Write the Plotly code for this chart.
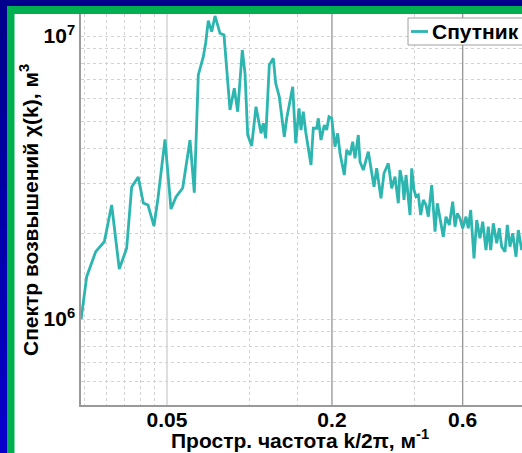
import math
import plotly.graph_objects as go

# spatial frequency k/2pi, 1/m
freq = [0.0243, 0.02546, 0.02746, 0.02952, 0.03141, 0.03348, 0.03562, 0.03716, 0.03927, 0.04098,
        0.04262, 0.04482, 0.04636, 0.04916, 0.05171, 0.05393, 0.05705, 0.06067, 0.0629, 0.06505,
        0.06784, 0.06922, 0.07074, 0.0728, 0.07485, 0.07806, 0.08072, 0.0849, 0.08802, 0.09057,
        0.09414, 0.09631, 0.09851, 0.10188, 0.10563, 0.11018, 0.11233, 0.1146, 0.11814, 0.12217,
        0.12464, 0.12849, 0.13399, 0.13674, 0.1438, 0.14746, 0.15163, 0.1542, 0.15717, 0.16038,
        0.16768, 0.17095, 0.17594, 0.1783, 0.18238, 0.18752, 0.19132, 0.19506, 0.19955, 0.20515,
        0.20988, 0.21398, 0.22185, 0.22634, 0.23273, 0.23805, 0.2427, 0.24955, 0.25315, 0.26025,
        0.27145, 0.27931, 0.28477, 0.29127, 0.30198, 0.30972, 0.32112, 0.33042, 0.33968, 0.34926,
        0.35428, 0.36237, 0.36641, 0.37262, 0.3799, 0.38536, 0.39091, 0.39856, 0.40532, 0.41325,
        0.42161, 0.43094, 0.44088, 0.44939, 0.46251, 0.46873, 0.47547, 0.48475, 0.49587, 0.50973,
        0.5214, 0.53611, 0.55165, 0.5624, 0.5734, 0.5865, 0.6, 0.61685, 0.6289, 0.64175,
        0.65975, 0.67495, 0.69385, 0.70985, 0.72975, 0.744, 0.75925, 0.77605, 0.7985, 0.81615,
        0.83265, 0.85615, 0.8729, 0.8928, 0.91335, 0.93895, 0.9573, 0.98505, 1.0129]

# elevation spectrum chi(k), in units of 1e6 m^3
spec_e6 = [1.0, 1.411, 1.729, 1.875, 2.528, 1.502, 1.778, 2.927, 3.175, 2.57,
           2.528, 2.131, 2.677, 4.315, 2.447, 2.698, 2.904, 4.29, 2.795, 7.281,
           8.451, 9.469, 11.33, 10.36, 11.77, 10.22, 10.08, 5.478, 6.533, 5.402,
           8.923, 7.383, 4.468, 4.087, 5.626, 4.53, 4.915, 4.35, 7.9, 8.341,
           6.805, 6.101, 4.406, 5.119, 6.618, 4.178, 5.554, 4.654, 5.402, 4.59,
           3.5, 4.72, 4.72, 5.119, 4.29, 4.848, 4.654, 5.186, 5.119, 4.064,
           4.53, 3.85, 3.227, 3.956, 3.797, 4.231, 3.696, 4.468, 3.595, 3.361,
           3.901, 3.315, 2.934, 3.408, 2.67, 3.272, 3.549, 2.896, 3.183, 2.564,
           3.361, 3.023, 2.633, 3.227, 2.705, 2.331, 3.408, 2.857, 2.705, 2.743,
           2.331, 2.633, 2.528, 2.299, 2.975, 2.427, 2.035, 2.564, 2.238, 1.953,
           2.299, 2.149, 2.598, 2.119, 2.363, 2.269, 2.092, 2.299, 2.092, 2.427,
           1.638, 2.238, 1.928, 2.207, 1.753, 2.119, 1.753, 2.179, 1.851, 2.092,
           1.801, 1.729, 2.149, 1.801, 2.009, 1.66, 2.063, 1.753, 1.902]

series_name = "Спутник"
x_title = "Простр. частота k/2π, м<sup>-1</sup>"
y_title = "Спектр возвышений χ(k), м<sup>3</sup>"

x_tick_vals = [0.05, 0.2, 0.6]
x_tick_text = ["0.05", "0.2", "0.6"]
x_minor_grid = [0.025, 0.03, 0.035, 0.04, 0.045, 0.1, 0.15, 0.4]
y_tick_vals = [1e6, 1e7]
y_tick_text = ["10<sup>6</sup>", "10<sup>7</sup>"]
y_minor_grid = [m * 10 ** e for e in (5, 6, 7) for m in range(2, 10)]

spec = [v * 1e6 for v in spec_e6]

W, H = 522, 453
ML, MR, MT, MB = 81, 0, 14, 48
PW, PH = W - ML - MR, H - MT - MB

def px(xp):
    return (xp - ML) / PW

def py(yp):
    return (H - MB - yp) / PH

FONT = "Liberation Sans, Arial, sans-serif"
FS = 21
LINE_COLOR = "#2db5b0"
GRID = "#d2d2d2"

fig = go.Figure()
fig.add_trace(go.Scatter(x=freq, y=spec, mode="lines", name=series_name,
                         line=dict(color=LINE_COLOR, width=2.8), showlegend=False))

shapes = []
# solid grid lines at labelled x ticks
shapes.append(dict(type="line", xref="x", yref="paper", x0=0.05, x1=0.05, y0=0, y1=1,
                   line=dict(color="#bdbdbd", width=1), layer="below"))
for xv in x_tick_vals[1:]:
    shapes.append(dict(type="line", xref="x", yref="paper", x0=xv, x1=xv, y0=0, y1=1,
                       line=dict(color="#8c8c8c", width=1.2), layer="below"))

# manual legend box
shapes.append(dict(type="rect", xref="paper", yref="paper", x0=px(408), x1=px(540), y0=py(45), y1=py(18),
                   line=dict(color="#a0a0a0", width=1), fillcolor="white", layer="above"))
shapes.append(dict(type="line", xref="paper", yref="paper", x0=px(411), x1=px(428), y0=py(31.5), y1=py(31.5),
                   line=dict(color=LINE_COLOR, width=2.8), layer="above"))

# slide frame: blue outer band (gradient on the left) and green inner band
n = 12
for i in range(n):
    t = i / (n - 1)
    r, g, b = int(0 + 8 * t), 0, int(140 + 60 * t)
    shapes.append(dict(type="rect", xref="paper", yref="paper",
                       x0=px(0), x1=px(7), y0=py(453 * (i + 1) / n + 1), y1=py(453 * i / n),
                       line=dict(width=0), fillcolor=f"rgb({r},{g},{b})", layer="above"))
shapes.append(dict(type="rect", xref="paper", yref="paper", x0=px(0), x1=px(530), y0=py(6), y1=py(-2),
                   line=dict(width=0), fillcolor="#00008c", layer="above"))
shapes.append(dict(type="rect", xref="paper", yref="paper", x0=px(7), x1=px(530), y0=py(14), y1=py(6),
                   line=dict(width=0), fillcolor="#00b050", layer="above"))
shapes.append(dict(type="rect", xref="paper", yref="paper", x0=px(7), x1=px(14.5), y0=py(460), y1=py(6),
                   line=dict(width=0), fillcolor="#00b050", layer="above"))

bold = dict(family=FONT, size=FS, color="black", weight="bold")
annotations = [
    dict(text=series_name, xref="paper", yref="paper", x=px(430), y=py(31.5), xanchor="left",
         yanchor="middle", showarrow=False, font=bold),
    dict(text=x_title, xref="paper", yref="paper", x=px(300), y=py(439.5), xanchor="center", yanchor="middle",
         showarrow=False, font=bold),
    dict(text=y_title, xref="paper", yref="paper", x=px(29), y=py(210), xanchor="center", yanchor="middle",
         textangle=-90, showarrow=False, font=bold),
]

fig.update_layout(
    width=W, height=H,
    margin=dict(l=ML, r=MR, t=MT, b=MB, autoexpand=False),
    paper_bgcolor="white", plot_bgcolor="white",
    shapes=shapes, annotations=annotations,
    xaxis=dict(type="log", range=[math.log10(0.05) - (167 - ML) / 274, math.log10(0.05) + (W - 167) / 274],
               tickmode="array", tickvals=x_tick_vals, ticktext=x_tick_text,
               showgrid=False, ticklabelstandoff=-5,
               minor=dict(tickmode="array", tickvals=x_minor_grid, showgrid=True,
                          gridcolor=GRID, griddash="dot", gridwidth=1, ticks=""),
               showline=True, linecolor="#9a9a9a", linewidth=1.5, ticks="", zeroline=False,
               tickfont=bold),
    yaxis=dict(type="log", range=[7 - (405 - 36) / 283, 7 + (36 - MT) / 283],
               tickmode="array", tickvals=y_tick_vals, ticktext=y_tick_text,
               showgrid=True, gridcolor=GRID, griddash="dot", gridwidth=1,
               minor=dict(tickmode="array", tickvals=y_minor_grid, showgrid=True,
                          gridcolor=GRID, griddash="dot", gridwidth=1, ticks=""),
               showline=True, linecolor="#9a9a9a", linewidth=1.5, ticks="", zeroline=False,
               tickfont=bold),
)

fig.write_html("out.html")
